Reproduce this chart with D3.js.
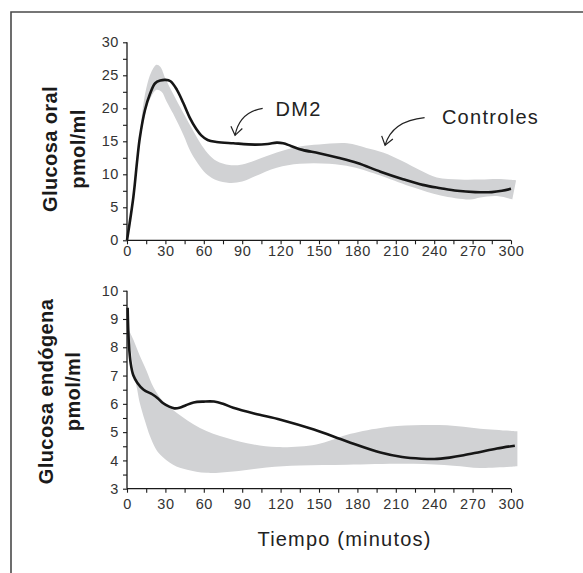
<!DOCTYPE html>
<html><head><meta charset="utf-8">
<script src="https://cdn.jsdelivr.net/npm/d3@7"></script>
<style>
html,body{margin:0;padding:0;background:#fff;}
svg{display:block;}
text{font-family:"Liberation Sans",Arial,Helvetica,sans-serif;}
</style></head>
<body>
<svg id="chart" width="583" height="573"></svg>
<script>
// ---------- DATA ----------
const xTicks = [0,15,30,45,60,75,90,105,120,135,150,165,180,195,210,225,240,255,270,285,300];
const xTickLabels = [0,30,60,90,120,150,180,210,240,270,300];
const topYTicks = [0,2.5,5,7.5,10,12.5,15,17.5,20,22.5,25,27.5,30];
const topYTickLabels = [0,5,10,15,20,25,30];
const botYTicks = [3,3.5,4,4.5,5,5.5,6,6.5,7,7.5,8,8.5,9,9.5,10];
const botYTickLabels = [3,4,5,6,7,8,9,10];

// Top panel: Glucosa oral
const oralDM2 = [[0,0],[5,6.6],[8,12.2],[10,15.5],[14,19.7],[18,22.2],[22,23.8],[26,24.2],[30,24.3],[34,24.1],[39,22.8],[44,20.8],[49,18.6],[54,16.9],[58,15.9],[63,15.2],[70,14.9],[83,14.7],[100,14.5],[110,14.6],[117,14.8],[122,14.7],[128,14.3],[137,13.7],[150,13.2],[165,12.5],[180,11.7],[198,10.4],[215,9.3],[231,8.4],[245,7.9],[258,7.5],[272,7.3],[285,7.3],[293,7.5],[300,7.8]];
const oralCtrlUpper = [[10,15.8],[12,19.5],[15,23],[19,25.5],[23,26.6],[26,26.3],[30,24.5],[36,22.2],[44,19.3],[50,17.2],[57,14.8],[63,13.2],[70,12.0],[80,11.4],[90,11.5],[100,12.1],[117,13.3],[135,14.2],[150,14.5],[172,14.7],[187,14.0],[200,13.3],[215,12.0],[229,10.6],[242,9.5],[260,9.2],[276,9.2],[290,9.3],[304,9.1]];
const oralCtrlLower = [[10,15.3],[12,17.0],[15,19.8],[19,21.8],[23,22.8],[27,22.5],[31,21.0],[36,19.2],[44,16.0],[50,13.3],[57,11.2],[63,9.9],[70,9.1],[80,8.7],[90,8.9],[100,9.7],[117,11.0],[135,11.6],[158,11.6],[176,11.1],[198,9.8],[212,8.8],[224,8.0],[245,6.8],[268,6.2],[276,6.5],[289,6.7],[301,6.2]];

// Bottom panel: Glucosa endógena
const endoDM2 = [[0.5,9.4],[1.5,8.1],[3,7.4],[5,7.0],[8,6.75],[13,6.5],[20,6.33],[24,6.2],[28,6.03],[33,5.9],[37,5.84],[41,5.86],[46,5.95],[52,6.05],[60,6.08],[68,6.08],[75,6.0],[83,5.86],[100,5.65],[120,5.44],[146,5.09],[172,4.67],[198,4.28],[215,4.12],[230,4.06],[240,4.05],[252,4.1],[263,4.18],[276,4.3],[289,4.42],[303,4.52]];
const endoCtrlUpper = [[0.5,8.7],[5,8.27],[10,7.7],[15,7.2],[21,6.56],[28,6.1],[39,5.68],[57,5.15],[78,4.79],[99,4.56],[117,4.47],[135,4.49],[148,4.56],[160,4.72],[172,4.91],[198,5.15],[224,5.24],[250,5.24],[276,5.12],[305,5.03]];
const endoCtrlLower = [[0.5,8.7],[3,7.9],[5,7.2],[8,6.5],[10,6.03],[14,5.4],[18,4.85],[22,4.45],[26,4.2],[36,3.85],[47,3.67],[62,3.56],[83,3.61],[109,3.75],[135,3.82],[172,3.85],[224,3.88],[255,3.81],[276,3.73],[305,3.79]];

// annotations (data coordinates, top panel): label, text pos, arrow start, control, tip
const annoLabels = ["DM2","Controles"];
const annoText = [[116,18.8],[246,17.6]];
const annoStart = [[106,20.0],[232.5,18.6]];
const annoCtrl = [[88,19.4],[207,18.1]];
const annoTip = [[84.4,15.9],[201.6,14.4]];

// ---------- DRAW ----------
const svg = d3.select("#chart");
const FONT = "\"Liberation Sans\",Arial,Helvetica,sans-serif";

// frame
svg.append("path").attr("d","M11,573 L11,12 L583,12").attr("fill","none").attr("stroke","#4a4a4a").attr("stroke-width",1.6);

const x = d3.scaleLinear().domain([0,300]).range([127,511]);
const yTop = d3.scaleLinear().domain([0,30]).range([240.3,42.3]);
const yBot = d3.scaleLinear().domain([3,10]).range([488.7,290.7]);

function bandPath(y, upper, lower){
  const ln = d3.line().x(d=>x(d[0])).y(d=>y(d[1])).curve(d3.curveCatmullRom.alpha(0.5));
  const a = ln(upper);
  const b = ln(lower.slice().reverse());
  return a + "L" + b.slice(1) + "Z";
}

function panel(y, upper, lower, dm2, yTicks, yLabels, xLabelPad){
  const g = svg.append("g");
  g.append("path").attr("d", bandPath(y, upper, lower)).attr("fill","#d1d2d4").attr("stroke","none");
  const ln = d3.line().x(d=>x(d[0])).y(d=>y(d[1])).curve(d3.curveCatmullRom.alpha(0.5));
  g.append("path").attr("d", ln(dm2)).attr("fill","none").attr("stroke","#161616").attr("stroke-width",2.6).attr("stroke-linejoin","round");

  const ya = d3.axisLeft(y).tickValues(yTicks).tickSize(4).tickPadding(4)
    .tickFormat(d => yLabels.includes(d) ? d : "");
  const gy = g.append("g").attr("transform",`translate(${x(0)},0)`).call(ya);
  const xa = d3.axisBottom(x).tickValues(xTicks).tickSize(4).tickPadding(xLabelPad)
    .tickFormat(d => xTickLabels.includes(d) ? d : "");
  const gx = g.append("g").attr("transform",`translate(0,${y.range()[0]})`).call(xa);
  [gx,gy].forEach(a=>{
    a.selectAll("path.domain").attr("stroke","#1a1a1a").attr("stroke-width",1.3);
    a.selectAll(".tick line").attr("stroke","#1a1a1a").attr("stroke-width",1.1);
    a.selectAll("text").attr("fill","#333").style("font-family",FONT).style("font-size","14.5px").style("letter-spacing","0.6px");
  });
  gx.selectAll(".domain").attr("d",`M${x(0)},0H${x(300)}`);
  gy.selectAll(".domain").attr("d",`M0,${y.range()[0]}V${y.range()[1]}`);
  return g;
}

panel(yTop, oralCtrlUpper, oralCtrlLower, oralDM2, topYTicks, topYTickLabels, 1);
panel(yBot, endoCtrlUpper, endoCtrlLower, endoDM2, botYTicks, botYTickLabels, 6);

// y-axis titles
function ytitle(lines, xs, cy){
  lines.forEach((t,i)=>{
    svg.append("text").attr("transform",`translate(${xs[i]},${cy}) rotate(-90)`)
      .attr("text-anchor","middle").style("font-family",FONT).style("font-weight","bold")
      .style("font-size","20px").style("letter-spacing","0.4px").attr("fill","#1a1a1a").text(t);
  });
}
ytitle(["Glucosa oral","pmol/ml"],[57,85],149);
ytitle(["Glucosa endógena","pmol/ml"],[53,80],391.5);

// x-axis title
svg.append("text").attr("x",344.5).attr("y",546).attr("text-anchor","middle")
  .style("font-family",FONT).style("font-size","20px").style("letter-spacing","1.2px").attr("fill","#222").text("Tiempo (minutos)");

// annotations
annoLabels.forEach((lab,i)=>{
  svg.append("text").attr("x",x(annoText[i][0])).attr("y",yTop(annoText[i][1]))
    .style("font-family",FONT).style("font-size","20px").style("letter-spacing","1.3px").attr("fill","#222").text(lab);
  const s=[x(annoStart[i][0]),yTop(annoStart[i][1])], c=[x(annoCtrl[i][0]),yTop(annoCtrl[i][1])], t=[x(annoTip[i][0]),yTop(annoTip[i][1])];
  const p = d3.path(); p.moveTo(s[0],s[1]); p.quadraticCurveTo(c[0],c[1],t[0],t[1]);
  svg.append("path").attr("d",p.toString()).attr("fill","none").attr("stroke","#222").attr("stroke-width",1.2);
  // arrowhead: two arms from tip
  const ang = Math.atan2(t[1]-c[1], t[0]-c[0]);
  const L=10, spread=0.62;
  const a1=[t[0]-L*Math.cos(ang-spread), t[1]-L*Math.sin(ang-spread)];
  const a2=[t[0]-L*Math.cos(ang+spread), t[1]-L*Math.sin(ang+spread)];
  svg.append("path").attr("d",`M${a1[0]},${a1[1]}L${t[0]},${t[1]}L${a2[0]},${a2[1]}`)
    .attr("fill","none").attr("stroke","#222").attr("stroke-width",1.2);
});
</script>
</body></html>
